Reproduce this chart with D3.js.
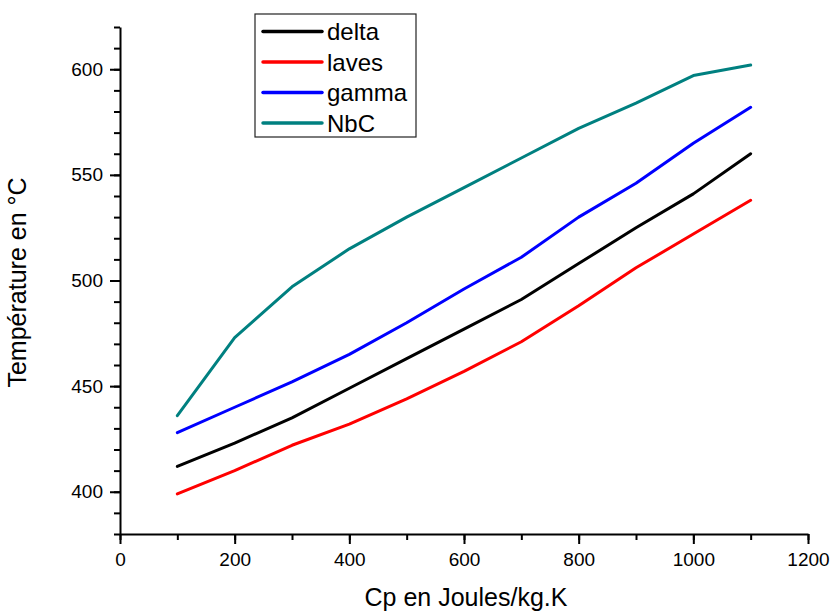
<!DOCTYPE html>
<html>
<head>
<meta charset="utf-8">
<script src="https://cdn.jsdelivr.net/npm/d3@7"></script>
<style>
  body { margin: 0; background: #fff; }
  svg { display: block; font-family: "Liberation Sans", Arial, sans-serif; }
</style>
</head>
<body>
<svg id="chart" width="833" height="612"></svg>
<script>
const cp = [100, 200, 300, 400, 500, 600, 700, 800, 900, 1000, 1100];
const delta = [412, 423, 435, 449, 463, 477, 491, 508, 525, 541, 560];
const laves = [399, 410, 422, 432, 444, 457, 471, 488, 506, 522, 538];
const gamma = [428, 440, 452, 465, 480, 496, 511, 530, 546, 565, 582];
const nbc = [436, 473, 497, 515, 530, 544, 558, 572, 584, 597, 602];
const seriesNames = ["delta", "laves", "gamma", "NbC"];
const seriesColors = ["#000000", "#ff0000", "#0000ff", "#008080"];
const xTicks = [0, 200, 400, 600, 800, 1000, 1200];
const yTicks = [400, 450, 500, 550, 600];

const series = [delta, laves, gamma, nbc];

const svg = d3.select("#chart");
const mLeft = 120, mRight = 808, mTop = 27, mBottom = 534;

const x = d3.scaleLinear().domain([0, 1200]).range([mLeft, mRight]);
const y = d3.scaleLinear().domain([380, 620]).range([mBottom, mTop]);

// minor ticks
svg.append("g")
  .attr("transform", `translate(0,${mBottom})`)
  .call(d3.axisBottom(x).tickValues(d3.range(0, 1201, 100)).tickSize(6).tickFormat(""))
  .call(g => g.select(".domain").remove())
  .call(g => g.selectAll("line").attr("stroke", "#000").attr("stroke-width", 2));
svg.append("g")
  .attr("transform", `translate(${mLeft},0)`)
  .call(d3.axisLeft(y).tickValues(d3.range(380, 621, 10)).tickSize(6).tickFormat(""))
  .call(g => g.select(".domain").remove())
  .call(g => g.selectAll("line").attr("stroke", "#000").attr("stroke-width", 2));

// major axes
const xAxis = svg.append("g")
  .attr("transform", `translate(0,${mBottom})`)
  .call(d3.axisBottom(x).tickValues(xTicks).tickSize(10).tickSizeOuter(0).tickPadding(9).tickFormat(d3.format("d")));
const yAxis = svg.append("g")
  .attr("transform", `translate(${mLeft},0)`)
  .call(d3.axisLeft(y).tickValues(yTicks).tickSize(10).tickSizeOuter(0).tickPadding(7).tickFormat(d3.format("d")));

[xAxis, yAxis].forEach(g => {
  g.select(".domain").attr("stroke", "#000").attr("stroke-width", 2);
  g.selectAll(".tick line").attr("stroke", "#000").attr("stroke-width", 2);
  g.selectAll(".tick text").attr("fill", "#000").style("font-size", "19px")
    .style("font-family", "'Liberation Sans', Arial, sans-serif");
});

// lines
const line = d3.line().x((d, i) => x(cp[i])).y(d => y(d));
series.forEach((s, k) => {
  svg.append("path")
    .datum(s)
    .attr("d", line)
    .attr("fill", "none")
    .attr("stroke", seriesColors[k])
    .attr("stroke-width", 3)
    .attr("stroke-linejoin", "round")
    .attr("stroke-linecap", "round");
});

// axis titles
svg.append("text")
  .attr("x", (mLeft + mRight) / 2 + 2)
  .attr("y", 606)
  .attr("text-anchor", "middle")
  .style("font-size", "25px")
  .text("Cp en Joules/kg.K");

svg.append("text")
  .attr("transform", `translate(26,${(mTop + mBottom) / 2 + 2}) rotate(-90)`)
  .attr("text-anchor", "middle")
  .style("font-size", "25px")
  .text("Température en °C");

// legend
const lg = svg.append("g");
lg.append("rect")
  .attr("x", 255).attr("y", 14).attr("width", 161).attr("height", 123)
  .attr("fill", "#fff").attr("stroke", "#222").attr("stroke-width", 1.2);
seriesNames.forEach((name, k) => {
  const yy = 31.5 + k * 30.5;
  lg.append("line")
    .attr("x1", 263).attr("x2", 322).attr("y1", yy).attr("y2", yy)
    .attr("stroke", seriesColors[k]).attr("stroke-width", 3.5).attr("stroke-linecap", "round");
  lg.append("text")
    .attr("x", 327).attr("y", yy).attr("dy", "0.36em")
    .style("font-size", "24px")
    .text(name);
});
</script>
</body>
</html>
